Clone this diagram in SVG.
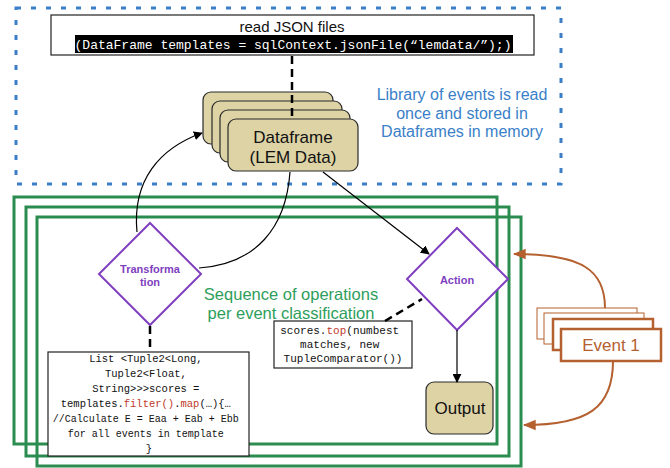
<svg xmlns="http://www.w3.org/2000/svg" width="670" height="468" viewBox="0 0 670 468">
<defs>
<marker id="ah" viewBox="0 0 10 10" refX="9" refY="5" markerWidth="9" markerHeight="9" markerUnits="userSpaceOnUse" orient="auto"><path d="M0,0 L10,5 L0,10 z" fill="#000"/></marker>
<marker id="ahb" viewBox="0 0 10 10" refX="9" refY="5" markerWidth="13" markerHeight="13" markerUnits="userSpaceOnUse" orient="auto"><path d="M0,1 L10,5 L0,9 z" fill="#b4602f"/></marker>
</defs>
<style>
.sans{font-family:"Liberation Sans",Arial,sans-serif}
.mono{font-family:"Liberation Mono","DejaVu Sans Mono",monospace}
.card{fill:#ddd3a5;stroke:#2a2a2a;stroke-width:1.2}
.grn{fill:none;stroke:#2b8c50;stroke-width:3}
.dia{fill:#fff;stroke:#7f3fc0;stroke-width:2}
.dtxt{fill:#7f3fc0;font-weight:bold;font-size:11px}
.code{fill:#fff;stroke:#222;stroke-width:1.2}
.ct{font-size:10.5px;fill:#111}
.sm{font-size:10px}
.red{fill:#c0392b}
.conn{fill:none;stroke:#000;stroke-width:1.2}
.dash{fill:none;stroke:#000;stroke-width:2.5;stroke-dasharray:8 5}
.ev{fill:#fff;stroke:#b4602f}
.evc{fill:none;stroke:#b4602f;stroke-width:2}
</style>

<g id="library-region">
<rect x="16" y="8" width="545" height="176" fill="none" stroke="#3a7fc8" stroke-width="3" stroke-dasharray="5 10"/>
<text class="sans" font-size="16" fill="#3a7fc8" text-anchor="middle"><tspan x="462" y="100">Library of events is read</tspan><tspan x="462" y="119">once and stored in</tspan><tspan x="462" y="137">Dataframes in memory</tspan></text>
</g>

<g id="sequence-frames">
<rect class="grn" x="14" y="197" width="483" height="247"/>
<rect class="grn" x="26" y="207" width="483" height="249"/>
<rect class="grn" x="37" y="217" width="484" height="249"/>
<text class="sans" font-size="16.5" fill="#2e9e5b" text-anchor="middle"><tspan x="291" y="300">Sequence of operations</tspan><tspan x="291" y="319">per event classification</tspan></text>
</g>

<g id="read-json">
<rect x="51" y="15" width="483" height="40" fill="#fff" stroke="#222" stroke-width="1.2"/>
<text class="sans" font-size="15" fill="#111" text-anchor="middle" x="292" y="32">read JSON files</text>
<rect x="75" y="35" width="438" height="18" fill="#000"/>
<text class="mono" font-size="13" fill="#fff" text-anchor="middle" x="293" y="49">(DataFrame templates = sqlContext.jsonFile(“lemdata/”);)</text>
</g>

<g id="dataframe">
<rect class="card" x="203" y="92" width="130" height="52" rx="8"/>
<rect class="card" x="212" y="101" width="130" height="52" rx="8"/>
<rect class="card" x="220" y="110" width="130" height="52" rx="8"/>
<rect class="card" x="228" y="119" width="130" height="52" rx="8"/>
<text class="sans" font-size="17" fill="#111" text-anchor="middle"><tspan x="293" y="143">Dataframe</tspan><tspan x="293" y="163">(LEM Data)</tspan></text>
</g>

<g id="transformation">
<polygon class="dia" points="150,223 201,274 150,325 99,274"/>
<text class="sans dtxt" text-anchor="middle"><tspan x="150" y="273">Transforma</tspan><tspan x="150" y="286">tion</tspan></text>
</g>

<g id="transformation-code">
<rect class="code" x="48" y="352" width="201" height="104"/>
<text class="mono ct" text-anchor="middle">
<tspan x="149" y="362">List &lt;Tuple2&lt;Long,</tspan>
<tspan x="149" y="377">Tuple2&lt;Float,</tspan>
<tspan x="149" y="392">String&gt;&gt;&gt;scores =</tspan>
<tspan x="149" y="407">templates.<tspan class="red">filter()</tspan>.<tspan class="red">map</tspan>(…){…</tspan>
<tspan x="149" y="422" class="sm">//Calculate E = Eaa + Eab + Ebb</tspan>
<tspan x="149" y="437" class="sm">for all events in template</tspan>
<tspan x="149" y="452">}</tspan>
</text>
</g>

<g id="action">
<polygon class="dia" points="457,228 508,279 457,330 407,279"/>
<text class="sans dtxt" text-anchor="middle" x="457" y="284">Action</text>
</g>

<g id="action-code">
<rect class="code" x="274" y="321" width="138" height="47"/>
<text class="mono" font-size="11" fill="#111" text-anchor="middle">
<tspan x="343" y="334">scores.<tspan class="red">top</tspan>(numbest</tspan>
<tspan x="343" y="348">matches, new</tspan>
<tspan x="343" y="362">TupleComparator())</tspan>
</text>
</g>

<g id="output">
<rect class="card" x="426" y="382" width="67" height="52" rx="8"/>
<text class="sans" font-size="17" fill="#111" text-anchor="middle" x="460" y="414">Output</text>
</g>

<g id="event">
<rect class="ev" x="537" y="308" width="100" height="31" stroke-width="1"/>
<rect class="ev" x="544" y="313" width="100" height="31" stroke-width="1"/>
<rect class="ev" x="553" y="319" width="100" height="31" stroke-width="2.5"/>
<rect class="ev" x="561" y="329" width="100" height="32" stroke-width="2.5"/>
<text class="sans" font-size="17" fill="#b4602f" text-anchor="middle" x="611" y="351">Event 1</text>
</g>

<g id="connectors">
<path class="dash" d="M292,56 L292,119"/>
<path class="conn" d="M137,232 C132,180 160,148 202,133" marker-end="url(#ah)"/>
<path class="conn" d="M199,268 C256,264 286,228 290,172"/>
<path class="conn" d="M323,172 L429,254" marker-end="url(#ah)"/>
<path class="dash" d="M150,326 L150,352"/>
<path class="dash" d="M385,321 L422,299"/>
<path class="conn" d="M457,330 L457,382" marker-end="url(#ah)"/>
<path class="evc" d="M605,308 C605,270 582,254 514,254" marker-end="url(#ahb)"/>
<path class="evc" d="M613,361 C613,408 588,425 524,425" marker-end="url(#ahb)"/>
</g>
</svg>
